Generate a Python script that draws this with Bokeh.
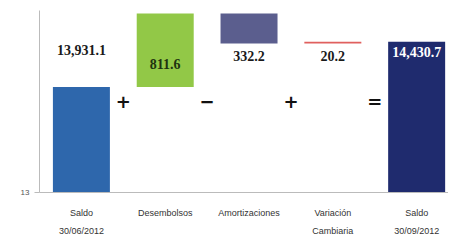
from bokeh.plotting import figure
from bokeh.models import ColumnDataSource, FixedTicker, CustomJSTickFormatter
from bokeh.core.properties import value
from bokeh.embed import file_html
from bokeh.resources import INLINE

categories = ["Saldo\n30/06/2012", "Desembolsos", "Amortizaciones", "Variación\nCambiaria", "Saldo\n30/09/2012"]
saldo_inicial = 13931.1
movimientos = [811.6, -332.2, 20.2]
signos = ["+", "−", "+", "="]
colors = ["#2E67AC", "#92C847", "#5B5E8E", "#E0605E", "#1F2B6E"]
y_start = 12770

# waterfall geometry from data
bottoms, tops = [], []
bottoms.append(y_start); tops.append(saldo_inicial)
cum = saldo_inicial
for m in movimientos:
    nxt = cum + m
    bottoms.append(min(cum, nxt)); tops.append(max(cum, nxt))
    cum = nxt
saldo_final = round(cum, 1)
bottoms.append(y_start); tops.append(saldo_final)
vals = [saldo_inicial] + [abs(m) for m in movimientos] + [saldo_final]
labels = [f"{v:,.1f}" for v in vals]
xs = list(range(len(categories)))

p = figure(width=448, height=238, output_backend="svg", toolbar_location=None,
           x_range=(-0.5, 4.38), y_range=(y_start, 14775),
           min_border_left=39, min_border_right=0, min_border_top=10, min_border_bottom=38)
p.outline_line_color = None
p.grid.visible = False

src = ColumnDataSource(dict(x=xs, bottom=bottoms, top=tops, color=colors))
p.vbar(x="x", width=0.68, bottom="bottom", top="top", fill_color="color", line_color=None, source=src)

# value labels
lab_y = [tops[0], (bottoms[1] + tops[1]) / 2, bottoms[2], bottoms[3], tops[4]]
lab_off = [-37, 14, 12, 12, 10]
lab_col = ["#1a1a1a", "#1f3310", "#1a1a1a", "#1a1a1a", "#ffffff"]
p.text(x=xs, y=lab_y, text=labels, y_offset=lab_off, text_color=lab_col,
       text_font=value("Liberation Serif"), text_font_style="bold", text_font_size="14px",
       text_align="center", text_baseline="middle")

# operators between bars
op_x = [i + 0.5 for i in range(len(signos))]
p.text(x=op_x, y=[saldo_inicial] * len(signos), text=signos, y_offset=14,
       text_font=value("DejaVu Sans"), text_font_style="bold", text_font_size="18px",
       text_color="#111111", text_align="center", text_baseline="middle")

p.xaxis.ticker = FixedTicker(ticks=xs)
p.xaxis.major_label_overrides = {i: c for i, c in enumerate(categories)}
p.xaxis.major_tick_line_color = None
p.xaxis.axis_line_color = "#bbbbbb"
p.xaxis.major_label_text_font = "Liberation Sans"
p.xaxis.major_label_text_font_size = "9px"
p.xaxis.major_label_text_line_height = 1.8
p.xaxis.major_label_text_color = "#333333"
p.xaxis.major_label_standoff = 9

p.yaxis.ticker = FixedTicker(ticks=[y_start])
p.yaxis.formatter = CustomJSTickFormatter(code="return (tick/1000).toFixed(0);")
p.yaxis.axis_line_color = "#bbbbbb"
p.yaxis.major_tick_line_color = "#bbbbbb"
p.yaxis.minor_tick_line_color = None
p.yaxis.major_tick_out = 5
p.yaxis.major_tick_in = 0
p.yaxis.major_label_text_font = "Liberation Sans"
p.yaxis.major_label_text_font_size = "8px"
p.yaxis.major_label_text_color = "#555555"

open("out.html", "w").write(file_html(p, INLINE))
